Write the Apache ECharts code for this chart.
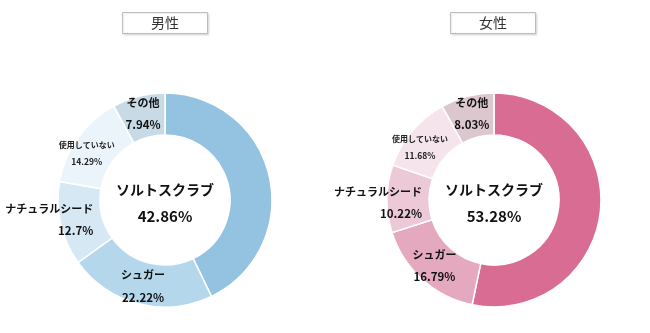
<!DOCTYPE html>
<html><head><meta charset="utf-8">
<script src="https://cdn.jsdelivr.net/npm/echarts@6/dist/echarts.min.js"></script>
<style>html,body{margin:0;padding:0;background:#fff}#c{width:650px;height:333px}</style>
</head><body><div id="c"></div>
<script>
var categories = ['ソルトスクラブ', 'シュガー', 'ナチュラルシード', '使用していない', 'その他'];
var maleValues = [42.86, 22.22, 12.7, 14.29, 7.94];
var femaleValues = [53.28, 16.79, 10.22, 11.68, 8.03];
var groupTitles = ['男性', '女性'];
var maleColors = ['#93C3E0', '#B5D7EB', '#D5E8F4', '#EBF4FA', '#C8DAE6'];
var femaleColors = ['#D96C93', '#E4A8BF', '#EDC9D8', '#F6E4EC', '#DCC7CE'];

var FONT = '"Noto Sans CJK JP", "Noto Sans", sans-serif';

function buildData(values, colors, seedOffset) {
  return categories.map(function (name, i) {
    var item = { name: name, value: values[i], itemStyle: { color: colors[i] } };
    if (i === 0) {
      item.label = { position: 'center', formatter: '{bigName|{b}}\n{bigVal|{c}%}', offset: [0, 3] };
    } else if (i === 2) {
      item.label = { formatter: '{rName|{b}}\n{rVal|{c}%}', offset: seedOffset };
    } else if (i === 3) {
      item.label = { formatter: '{smallName|{b}}\n{smallVal|{c}%}', offset: [-6, 5] };
    }
    return item;
  });
}

function makeSeries(values, colors, cx, seedOffset) {
  return {
    type: 'pie',
    center: [cx, 200],
    radius: [65, 107],
    startAngle: 90,
    clockwise: true,
    avoidLabelOverlap: false,
    silent: true,
    labelLayout: { hideOverlap: false },
    itemStyle: { borderColor: '#fff', borderWidth: 1.5 },
    label: {
      show: true,
      position: 'inside',
      formatter: '{midName|{b}}\n{midVal|{c}%}',
      rich: {
        bigName: { fontSize: 14, fontWeight: 'bold', color: '#111', lineHeight: 27, fontFamily: FONT },
        bigVal: { fontSize: 15, fontWeight: 'bold', color: '#111', lineHeight: 27, fontFamily: FONT },
        midName: { fontSize: 11, fontWeight: 'bold', color: '#111', lineHeight: 22, fontFamily: FONT },
        midVal: { fontSize: 11.5, fontWeight: 'bold', color: '#111', lineHeight: 22, fontFamily: FONT },
        rName: { fontSize: 11, fontWeight: 'bold', color: '#111', lineHeight: 22, fontFamily: FONT, align: 'right' },
        rVal: { fontSize: 11.5, fontWeight: 'bold', color: '#111', lineHeight: 22, fontFamily: FONT, align: 'right' },
        smallName: { fontSize: 8, fontWeight: 'bold', color: '#222', lineHeight: 17, fontFamily: FONT },
        smallVal: { fontSize: 8.5, fontWeight: 'bold', color: '#222', lineHeight: 17, fontFamily: FONT }
      }
    },
    labelLine: { show: false },
    data: buildData(values, colors, seedOffset)
  };
}

function makeTitle(text, left) {
  return {
    text: text, left: left, top: 12, padding: [4, 29],
    borderColor: '#bdbdbd', borderWidth: 1,
    shadowColor: 'rgba(0,0,0,0.12)', shadowBlur: 2, shadowOffsetX: 1, shadowOffsetY: 1,
    backgroundColor: '#fff',
    textStyle: { fontSize: 14, fontWeight: 'normal', color: '#333', fontFamily: FONT }
  };
}

var chart = echarts.init(document.getElementById('c'), null, { renderer: 'canvas' });
chart.setOption({
  backgroundColor: '#fff',
  animation: false,
  title: [makeTitle(groupTitles[0], 122), makeTitle(groupTitles[1], 450)],
  series: [
    makeSeries(maleValues, maleColors, 165, [-29, 0]),
    makeSeries(femaleValues, femaleColors, 494, [-27, 4])
  ]
});
</script>
</body></html>
